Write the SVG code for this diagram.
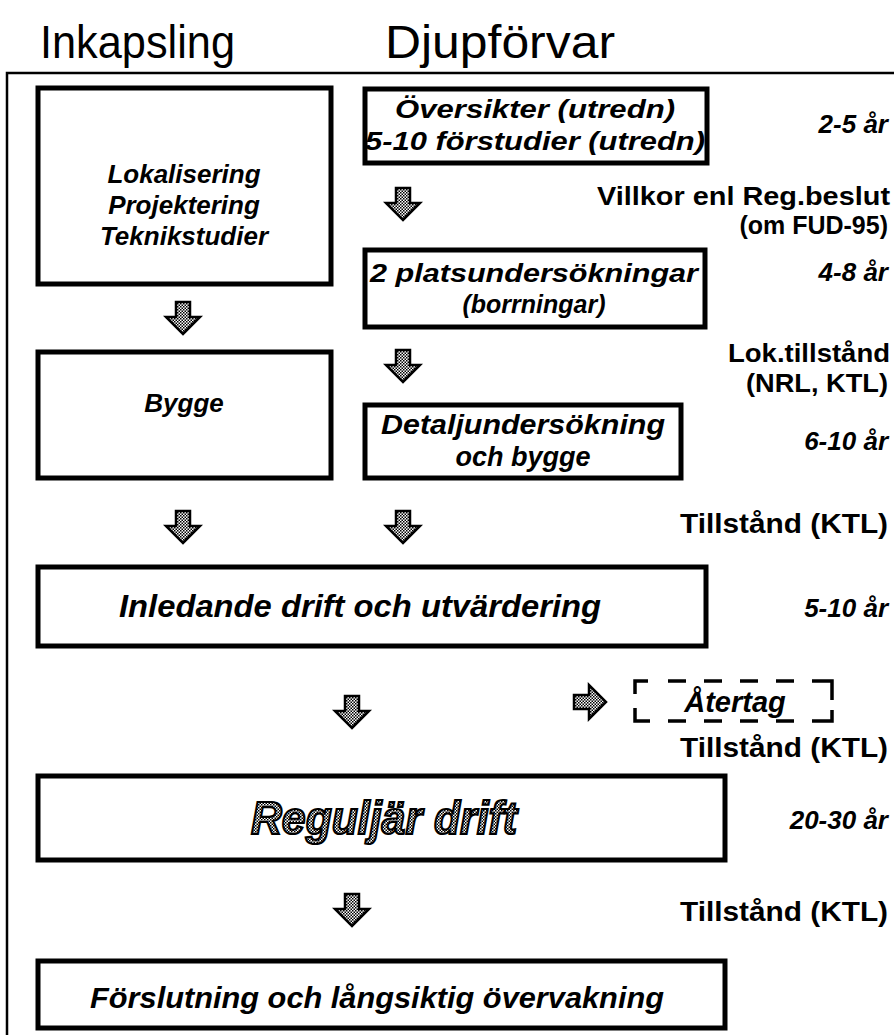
<svg xmlns="http://www.w3.org/2000/svg" width="894" height="1035" viewBox="0 0 894 1035">
  <style>
    .box { fill: #fff; stroke: #000; stroke-width: 5; }
    .dash { fill: none; stroke: #000; stroke-width: 3.5; stroke-linecap: butt; }
    .frame { fill: none; stroke: #000; stroke-width: 2.5; }
    .head { font-family: "Liberation Sans", Arial, sans-serif; font-size: 46px; fill: #000; }
    .lbl { font-family: "Liberation Sans", Arial, sans-serif; font-weight: bold; font-style: italic; font-size: 25px; fill: #000; text-anchor: middle; }
    .dur { font-family: "Liberation Sans", Arial, sans-serif; font-weight: bold; font-style: italic; font-size: 26px; fill: #000; text-anchor: end; }
    .cond { font-family: "Liberation Sans", Arial, sans-serif; font-weight: bold; font-size: 25px; fill: #000; text-anchor: end; }
    .narrow { font-size: 28px; }
    .arrow { fill: url(#dots); stroke: #000; stroke-width: 2.5; stroke-linejoin: miter; }
    .fancy { font-family: "Liberation Sans", Arial, sans-serif; font-weight: bold; font-style: italic; font-size: 46px; fill: url(#dots); stroke: #000; stroke-width: 2.2; text-anchor: middle; }
  </style>
  <defs>
    <pattern id="dots" width="3" height="3" patternUnits="userSpaceOnUse">
      <rect width="3" height="3" fill="#fff"/>
      <rect x="0" y="0" width="1.5" height="1.5" fill="#000"/>
      <rect x="1.5" y="1.5" width="1.5" height="1.5" fill="#000"/>
    </pattern>
    <!-- hatched block arrows, drawn round their centre -->
    <path id="down" d="M -7 -16 L 7 -16 L 7 -1 L 17 -1 L 0 16 L -17 -1 L -7 -1 Z"/>
    <path id="right" d="M -16 -7 L -1 -7 L -1 -17 L 16 0 L -1 17 L -1 7 L -16 7 Z"/>
  </defs>

  <!-- column headings -->
  <text class="head" x="40" y="58" textLength="195" lengthAdjust="spacingAndGlyphs">Inkapsling</text>
  <text class="head" x="385" y="58" textLength="230" lengthAdjust="spacingAndGlyphs">Djupförvar</text>

  <!-- outer frame (open to the right and bottom) -->
  <path class="frame" d="M 894 73 L 7 73 L 7 1035"/>

  <g id="lokalisering">
    <rect class="box" x="38" y="88" width="293" height="196"/>
    <text class="lbl" x="184" y="183" style="font-size:26px">Lokalisering</text>
    <text class="lbl" x="184" y="214" style="font-size:26px">Projektering</text>
    <text class="lbl" x="184" y="245" style="font-size:26px">Teknikstudier</text>
  </g>

  <g id="oversikter">
    <rect class="box" x="365" y="89" width="342" height="74"/>
    <text class="lbl" x="535" y="118" textLength="280" lengthAdjust="spacingAndGlyphs">Översikter (utredn)</text>
    <text class="lbl" x="535" y="150" textLength="340" lengthAdjust="spacingAndGlyphs">5-10 förstudier (utredn)</text>
  </g>

  <g id="platsundersokningar">
    <rect class="box" x="365" y="250" width="340" height="77"/>
    <text class="lbl" x="534" y="282" textLength="328" lengthAdjust="spacingAndGlyphs">2 platsundersökningar</text>
    <text class="lbl" x="534" y="313">(borrningar)</text>
  </g>

  <g id="bygge">
    <rect class="box" x="38" y="352" width="293" height="126"/>
    <text class="lbl" x="184" y="412" style="font-size:26px">Bygge</text>
  </g>

  <g id="detaljundersokning">
    <rect class="box" x="365" y="405" width="316" height="73"/>
    <text class="lbl" x="523" y="434" textLength="284" lengthAdjust="spacingAndGlyphs" style="font-size:27px">Detaljundersökning</text>
    <text class="lbl" x="523" y="466" style="font-size:27px">och bygge</text>
  </g>

  <g id="inledande">
    <rect class="box" x="38" y="567" width="668" height="79"/>
    <text class="lbl" x="360" y="617" textLength="482" lengthAdjust="spacingAndGlyphs" style="font-size:31px">Inledande drift och utvärdering</text>
  </g>

  <g id="atertag">
    <!-- dashed frame with closed corners -->
    <path class="dash" d="M 635 694 V 681 H 648 M 668 681 H 686 M 704 681 H 722 M 740 681 H 758 M 776 681 H 794 M 812 681 H 832 V 700
                          M 635 708 V 721 H 650 M 668 721 H 686 M 704 721 H 722 M 740 721 H 758 M 776 721 H 794 M 812 721 H 832 V 710"/>
    <text class="lbl" x="735" y="712" style="font-size:29px">Återtag</text>
  </g>

  <g id="regeljar">
    <rect class="box" x="38" y="776" width="687" height="84"/>
    <text class="fancy" x="384" y="834" textLength="266" lengthAdjust="spacingAndGlyphs">Reguljär drift</text>
  </g>

  <g id="forslutning">
    <rect class="box" x="38" y="961" width="687" height="67"/>
    <text class="lbl" x="377" y="1008" textLength="574" lengthAdjust="spacingAndGlyphs" style="font-size:30px">Förslutning och långsiktig övervakning</text>
  </g>

  <!-- block arrows between stages -->
  <g id="connectors">
    <use href="#down" class="arrow" x="183" y="318"/>
    <use href="#down" class="arrow" x="403" y="204"/>
    <use href="#down" class="arrow" x="403" y="366"/>
    <use href="#down" class="arrow" x="183" y="527"/>
    <use href="#down" class="arrow" x="403" y="527"/>
    <use href="#down" class="arrow" x="352" y="712"/>
    <use href="#down" class="arrow" x="352" y="910"/>
    <use href="#right" class="arrow" x="590" y="702"/>
  </g>

  <!-- durations and permits -->
  <g id="annotations">
    <text class="dur" x="888" y="133">2-5 år</text>
    <text class="cond" x="890" y="205" textLength="293" lengthAdjust="spacingAndGlyphs">Villkor enl Reg.beslut</text>
    <text class="cond" x="888" y="234">(om FUD-95)</text>
    <text class="dur" x="888" y="281">4-8 år</text>
    <text class="cond" x="890" y="362" textLength="162" lengthAdjust="spacingAndGlyphs">Lok.tillstånd</text>
    <text class="cond" x="888" y="392" textLength="142" lengthAdjust="spacingAndGlyphs">(NRL, KTL)</text>
    <text class="dur" x="888" y="450">6-10 år</text>
    <text class="cond narrow" x="888" y="533" textLength="208" lengthAdjust="spacingAndGlyphs">Tillstånd (KTL)</text>
    <text class="dur" x="888" y="617">5-10 år</text>
    <text class="cond narrow" x="888" y="757" textLength="208" lengthAdjust="spacingAndGlyphs">Tillstånd (KTL)</text>
    <text class="dur" x="888" y="829">20-30 år</text>
    <text class="cond narrow" x="888" y="921" textLength="208" lengthAdjust="spacingAndGlyphs">Tillstånd (KTL)</text>
  </g>
</svg>
